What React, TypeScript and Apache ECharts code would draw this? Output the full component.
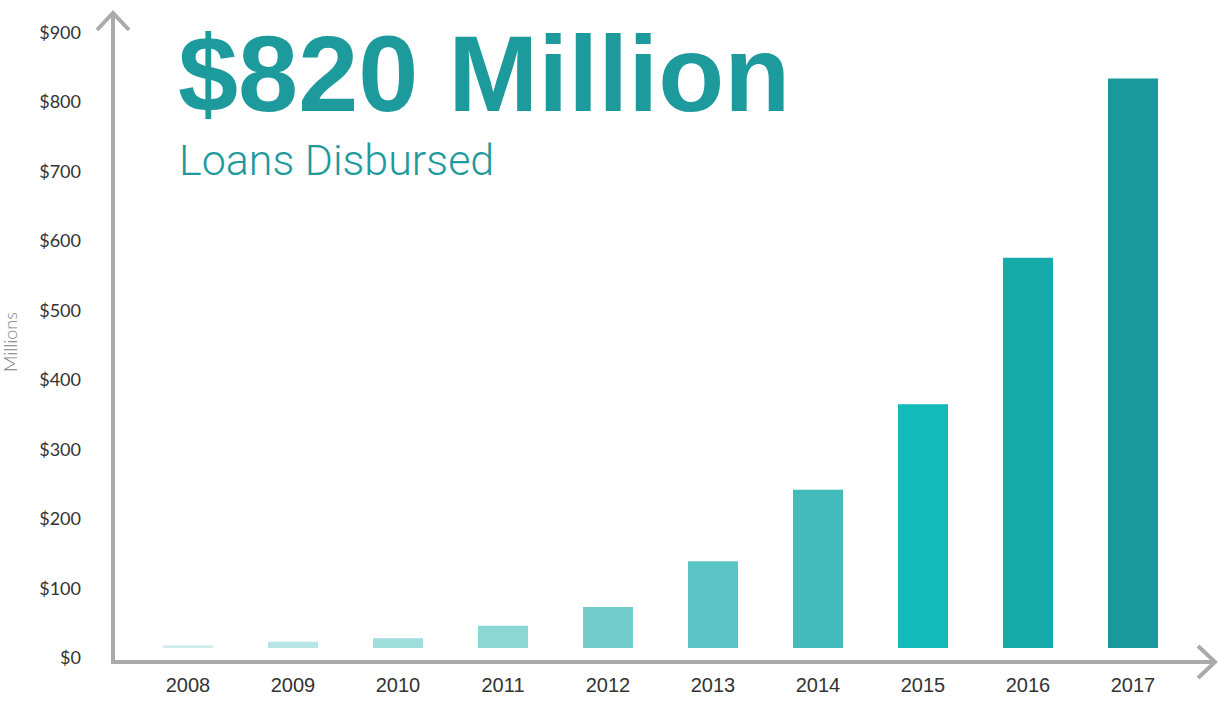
import React, { useEffect, useRef } from "react";
import * as echarts from "echarts";

const years = ["2008", "2009", "2010", "2011", "2012", "2013", "2014", "2015", "2016", "2017"];
const loans = [4, 9, 14, 32, 59, 125, 228, 351, 562, 820];
const barColors = [
  "#d0eded", "#b5e5e5", "#a0dede", "#8ad7d6", "#72cccc",
  "#5bc5c5", "#43bbbb", "#12baba", "#15abaa", "#1b989b",
];
const headline = "$820 Million";
const subhead = "Loans Disbursed";
const yUnit = "Millions";

export default function App() {
  const ref = useRef<HTMLDivElement>(null);
  useEffect(() => {
    document.body.style.margin = "0";
    const chart = echarts.init(ref.current!, null, { renderer: "svg" });
    const axisColor = "#aaaaaa";
    chart.setOption({
      animation: false,
      backgroundColor: "#ffffff",
      grid: { left: 135.5, right: 32.5, top: 32, bottom: 44 },
      xAxis: {
        type: "category",
        data: years,
        axisLine: { show: false },
        axisTick: { show: false },
        axisLabel: {
          color: "#333333",
          fontFamily: "Liberation Sans",
          fontSize: 20,
          margin: 18,
        },
      },
      yAxis: [
        {
          type: "value",
          min: 0,
          max: 900,
          interval: 100,
          axisLine: { show: false },
          axisTick: { show: false },
          splitLine: { show: false },
          axisLabel: {
            formatter: (v: number) => "$" + v,
            color: "#333333",
            fontFamily: "Lato",
            fontSize: 18,
            margin: 54.5,
          },
        },
        {
          type: "value",
          min: -13,
          max: 887,
          show: false,
          splitLine: { show: false },
        },
      ],
      series: [
        {
          type: "bar",
          yAxisIndex: 1,
          barWidth: 50,
          data: loans.map((v, i) => ({ value: v, itemStyle: { color: barColors[i] } })),
        },
      ],
      graphic: [
        {
          type: "polyline",
          shape: { points: [[113, 664], [113, 12]] },
          style: { stroke: axisColor, lineWidth: 4, fill: null },
        },
        {
          type: "polyline",
          shape: { points: [[97, 30], [113, 13], [129, 30]] },
          style: { stroke: axisColor, lineWidth: 4, fill: null },
        },
        {
          type: "polyline",
          shape: { points: [[111, 662], [1215, 662]] },
          style: { stroke: axisColor, lineWidth: 4, fill: null },
        },
        {
          type: "polyline",
          shape: { points: [[1198, 646], [1215, 662], [1198, 678]] },
          style: { stroke: axisColor, lineWidth: 4, fill: null },
        },
        {
          type: "text",
          x: 178,
          y: 73,
          style: {
            text: headline,
            fill: "#1c9a9c",
            font: "bold 108px 'Liberation Sans'",
            verticalAlign: "middle",
          },
        },
        {
          type: "text",
          x: 179,
          y: 160,
          style: {
            text: subhead,
            fill: "#1c9a9c",
            font: "300 43px Roboto",
            verticalAlign: "middle",
          },
        },
        {
          type: "text",
          x: 10,
          y: 342,
          rotation: Math.PI / 2,
          style: {
            text: yUnit,
            fill: "#808080",
            font: "300 18px Lato",
            align: "center",
            verticalAlign: "middle",
          },
        },
      ],
    });
    return () => chart.dispose();
  }, []);
  return <div ref={ref} style={{ width: 1218, height: 701 }} />;
}
